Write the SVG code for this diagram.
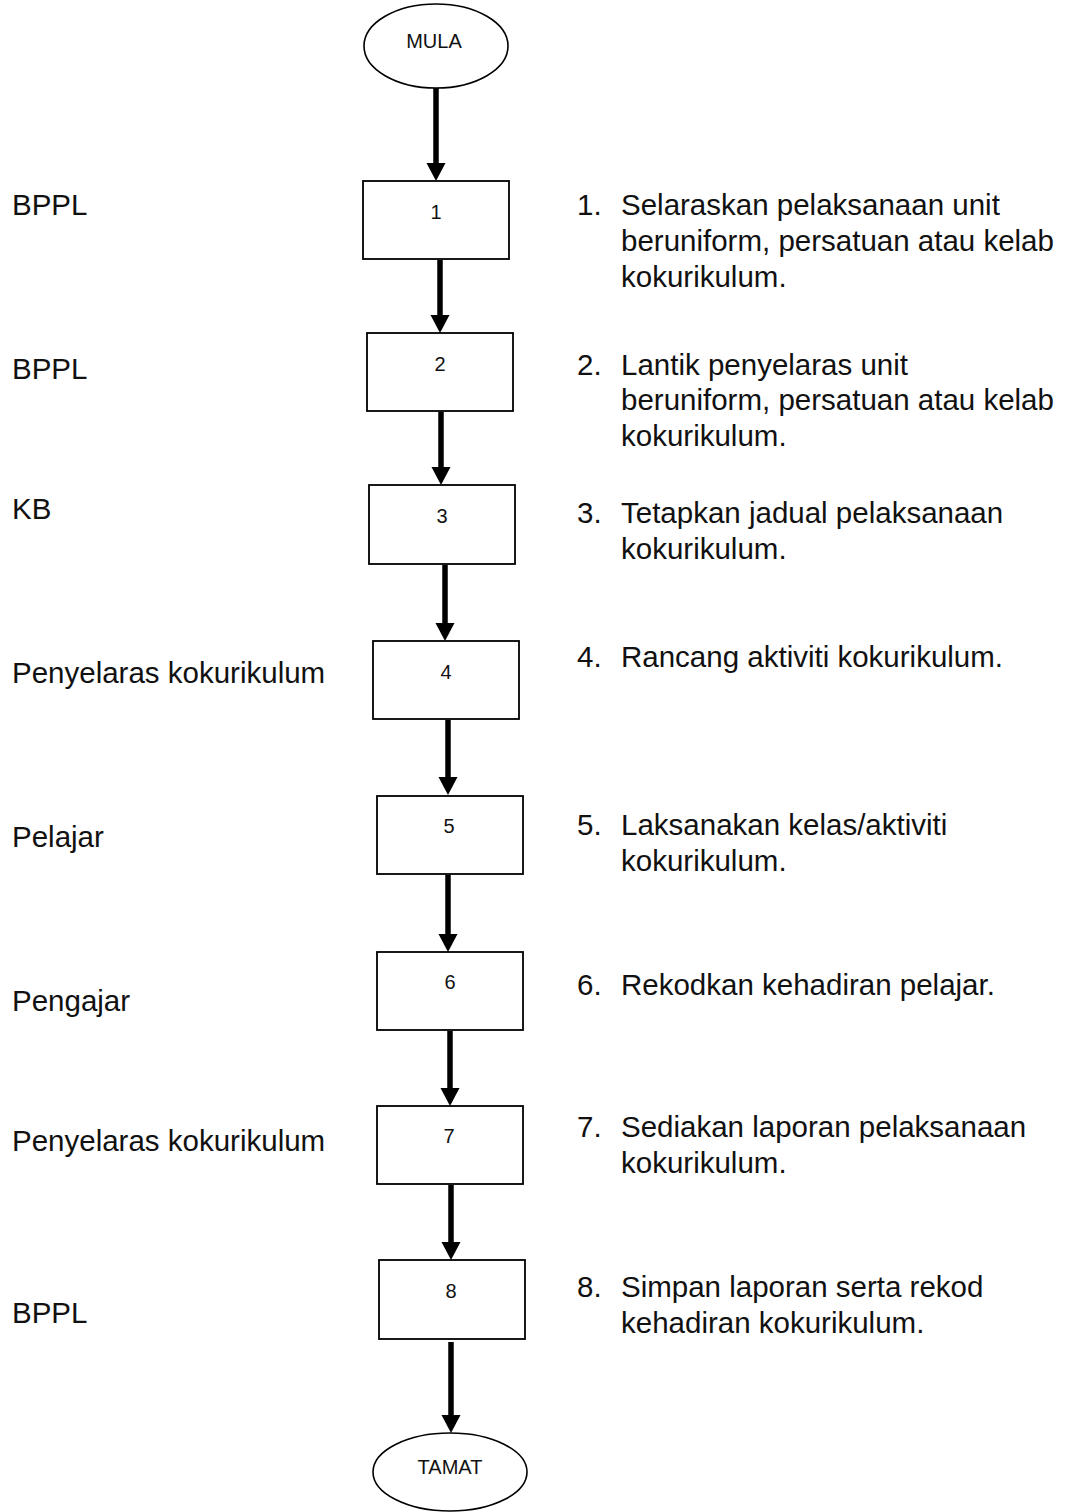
<svg xmlns="http://www.w3.org/2000/svg" width="1067" height="1512" viewBox="0 0 1067 1512">
  <style>
    .term { fill: #fff; stroke: #000; stroke-width: 1.6; }
    .step { fill: #fff; stroke: #000; stroke-width: 1.8; }
    .small { font-family: "Liberation Sans", Arial, sans-serif; font-size: 20px; fill: #111; text-anchor: middle; }
    .label { font-family: "Liberation Sans", Arial, sans-serif; font-size: 29.5px; fill: #111; }
    .flow { stroke: #000; stroke-width: 5.5; fill: none; marker-end: url(#head); }
  </style>
  <defs>
    <marker id="head" markerUnits="userSpaceOnUse" markerWidth="18" markerHeight="19" viewBox="0 -9.5 18 19" refX="0" refY="0" orient="auto" overflow="visible">
      <path d="M0,-9.5 L18,0 L0,9.5 Z" fill="#000"/>
    </marker>
  </defs>

  <!-- connectors: each line stops where its arrowhead base begins -->
  <g id="connectors">
    <line class="flow" x1="436" y1="88" x2="436" y2="163"/>
    <line class="flow" x1="440" y1="260" x2="440" y2="315"/>
    <line class="flow" x1="441" y1="412" x2="441" y2="467"/>
    <line class="flow" x1="445" y1="565" x2="445" y2="623"/>
    <line class="flow" x1="448" y1="720" x2="448" y2="777"/>
    <line class="flow" x1="448" y1="875" x2="448" y2="934"/>
    <line class="flow" x1="450" y1="1031" x2="450" y2="1088"/>
    <line class="flow" x1="451" y1="1185" x2="451" y2="1242"/>
    <line class="flow" x1="451" y1="1342" x2="451" y2="1415"/>
  </g>

  <!-- start / end terminators -->
  <g id="mula">
    <ellipse class="term" cx="436" cy="46" rx="72" ry="42"/>
    <text class="small" x="434" y="48" font-size="19">MULA</text>
  </g>
  <g id="tamat">
    <ellipse class="term" cx="450" cy="1472" rx="77" ry="39"/>
    <text class="small" x="450" y="1474" font-size="19">TAMAT</text>
  </g>

  <!-- process steps -->
  <g id="step1"><rect class="step" x="363" y="181" width="146" height="78"/><text class="small" x="436" y="219">1</text></g>
  <g id="step2"><rect class="step" x="367" y="333" width="146" height="78"/><text class="small" x="440" y="371">2</text></g>
  <g id="step3"><rect class="step" x="369" y="485" width="146" height="79"/><text class="small" x="442" y="523">3</text></g>
  <g id="step4"><rect class="step" x="373" y="641" width="146" height="78"/><text class="small" x="446" y="679">4</text></g>
  <g id="step5"><rect class="step" x="377" y="796" width="146" height="78"/><text class="small" x="449" y="833">5</text></g>
  <g id="step6"><rect class="step" x="377" y="952" width="146" height="78"/><text class="small" x="450" y="989">6</text></g>
  <g id="step7"><rect class="step" x="377" y="1106" width="146" height="78"/><text class="small" x="449" y="1143">7</text></g>
  <g id="step8"><rect class="step" x="379" y="1260" width="146" height="79"/><text class="small" x="451" y="1298">8</text></g>

  <!-- responsible party for each step -->
  <g id="roles">
    <text class="label" x="12" y="215">BPPL</text>
    <text class="label" x="12" y="379">BPPL</text>
    <text class="label" x="12" y="519">KB</text>
    <text class="label" x="12" y="683">Penyelaras kokurikulum</text>
    <text class="label" x="12" y="847">Pelajar</text>
    <text class="label" x="12" y="1011">Pengajar</text>
    <text class="label" x="12" y="1151">Penyelaras kokurikulum</text>
    <text class="label" x="12" y="1323">BPPL</text>
  </g>

  <!-- step descriptions -->
  <g id="descriptions">
    <text class="label" x="577" y="215">1.</text>
    <text class="label" x="621" y="215">Selaraskan pelaksanaan unit</text>
    <text class="label" x="621" y="251">beruniform, persatuan atau kelab</text>
    <text class="label" x="621" y="287">kokurikulum.</text>

    <text class="label" x="577" y="375">2.</text>
    <text class="label" x="621" y="375">Lantik penyelaras unit</text>
    <text class="label" x="621" y="410">beruniform, persatuan atau kelab</text>
    <text class="label" x="621" y="446">kokurikulum.</text>

    <text class="label" x="577" y="523">3.</text>
    <text class="label" x="621" y="523">Tetapkan jadual pelaksanaan</text>
    <text class="label" x="621" y="559">kokurikulum.</text>

    <text class="label" x="577" y="667">4.</text>
    <text class="label" x="621" y="667">Rancang aktiviti kokurikulum.</text>

    <text class="label" x="577" y="835">5.</text>
    <text class="label" x="621" y="835">Laksanakan kelas/aktiviti</text>
    <text class="label" x="621" y="871">kokurikulum.</text>

    <text class="label" x="577" y="995">6.</text>
    <text class="label" x="621" y="995">Rekodkan kehadiran pelajar.</text>

    <text class="label" x="577" y="1137">7.</text>
    <text class="label" x="621" y="1137">Sediakan laporan pelaksanaan</text>
    <text class="label" x="621" y="1173">kokurikulum.</text>

    <text class="label" x="577" y="1297">8.</text>
    <text class="label" x="621" y="1297">Simpan laporan serta rekod</text>
    <text class="label" x="621" y="1333">kehadiran kokurikulum.</text>
  </g>
</svg>
